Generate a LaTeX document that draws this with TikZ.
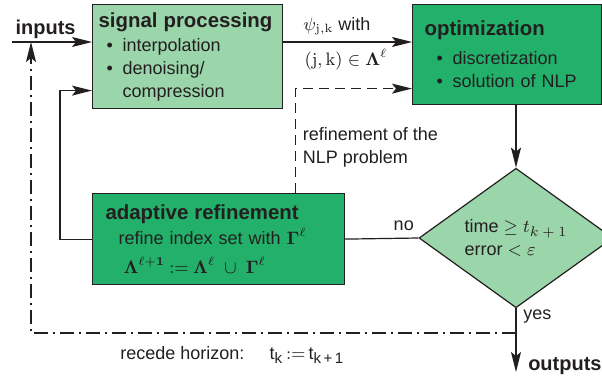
\documentclass[tikz,border=0pt]{standalone}
\usepackage[no-math]{fontspec}
\setmainfont{Liberation Serif}
\setsansfont{Liberation Sans}
\usetikzlibrary{arrows.meta,shapes.geometric}

\definecolor{lightgreen}{RGB}{155,213,170}
\definecolor{darkgreen}{RGB}{34,176,106}
\definecolor{ink}{RGB}{35,31,32}
\newcommand{\titlefont}{\fontsize{10.2}{12}\selectfont\bfseries}
\newcommand{\bul}{\makebox[8pt][l]{\textbullet}}
\newcommand{\sub}[1]{\textsubscript{\fontsize{7.5}{8}\selectfont#1}}

\tikzset{
  block/.style={draw=ink,line width=.6pt,anchor=north west,align=left,inner ysep=0pt},
  decision/.style={draw=ink,line width=.6pt,diamond,fill=lightgreen,minimum width=97pt,minimum height=58.5pt,inner sep=0pt,align=left},
  link/.style={line width=.6pt,draw=ink},
  flow/.style={link,-{Stealth[length=10pt,width=5pt,inset=2pt]}},
  dashedflow/.style={flow,dash pattern=on 5pt off 3pt},
  recede/.style={link,dash pattern=on 7pt off 2.5pt on 1pt off 2.5pt},
}

\begin{document}
\begin{tikzpicture}[x=.5pt,y=-.5pt,font=\sffamily\fontsize{9}{11.5}\selectfont,text=ink]
  \useasboundingbox (0,0) rectangle (602,381);
  % blocks
  \node[block,fill=lightgreen,text width=89pt,inner xsep=3pt,minimum height=52pt] (sig) at (92,4)
    {{\titlefont signal processing}\\[.5pt]
     \hspace*{4pt}\bul interpolation\\
     \hspace*{4pt}\bul denoising/\\
     \hspace*{12pt}compression};
  \node[block,fill=darkgreen,text width=82.5pt,inner xsep=6pt,minimum height=50pt] (opt) at (412,4)
    {{\titlefont optimization}\\[3pt]
     \hspace*{6pt}\bul discretization\\
     \hspace*{6pt}\bul solution of NLP};
  \node[block,fill=darkgreen,text width=113pt,inner xsep=6.5pt,minimum height=45.5pt] (ada) at (92,193)
    {{\titlefont adaptive refinement}\\[1pt]
     \hspace*{6.5pt}refine index set with $\mathbf{\Gamma}^{\ell}$\\[3pt]
     \hspace*{9pt}$\mathbf{\Lambda}^{\ell+\mathbf{1}}\mathbin{\mathbf{:=}}\mathbf{\Lambda}^{\ell}\;\cup\;\mathbf{\Gamma}^{\ell}$};
  \node[decision] (dec) at (516,238) {time $\geq t_{\mbox{\fontsize{7.5}{8}\selectfont$k+1$}}$\\error $<\varepsilon$};
  \coordinate (in) at (12,42);
  \coordinate (rc) at (31,333);
  \coordinate (out) at (517,372);
  % connectors
  \draw[flow] (in) -- (sig.west |- in) node[pos=0,above right,inner sep=1.5pt,font=\sffamily\bfseries] (inlabel) {inputs};
  \draw[flow] (sig.east |- in) -- (opt.west |- in)
    node[pos=.1,anchor=south west] (psi) {$\psi_{\mathrm{j,k}}$ with}
    node[pos=.11,anchor=north west] (lam) {$(\mathrm{j},\mathrm{k})\in\mathbf{\Lambda}^{\ell}$};
  \draw[dashedflow] ([xshift=38.5pt]ada.north) |- ([yshift=-17pt]opt.west)
    node[pos=.22,right,align=left] (nlp) {refinement of the\\NLP problem};
  \draw[flow] (ada.west) -- ++(-32,0) |- ([yshift=-17pt]sig.west);
  \draw[flow] (opt.south -| dec.north) -- (dec.north);
  \draw[link] (dec.west) -- (ada.east) node[pos=.2,above] (no) {no};
  \draw[flow] (dec.south) -- (dec.south |- out)
    node[pos=.13,right] (yes) {yes}
    node[pos=1,anchor=west,xshift=2.5pt,yshift=3pt,font=\sffamily\bfseries] (outlabel) {outputs};
  \draw[recede,-{Stealth[length=10pt,width=5pt,inset=2pt]}] (rc -| dec.south) -- (rc)
    node[pos=.585,anchor=north,yshift=-3pt] (horizon) {recede horizon:\hspace{1.4em}t\sub{k}\,$:=$\,t\sub{k\,+\,1}}
    -- (rc |- in);
\end{tikzpicture}
\end{document}
